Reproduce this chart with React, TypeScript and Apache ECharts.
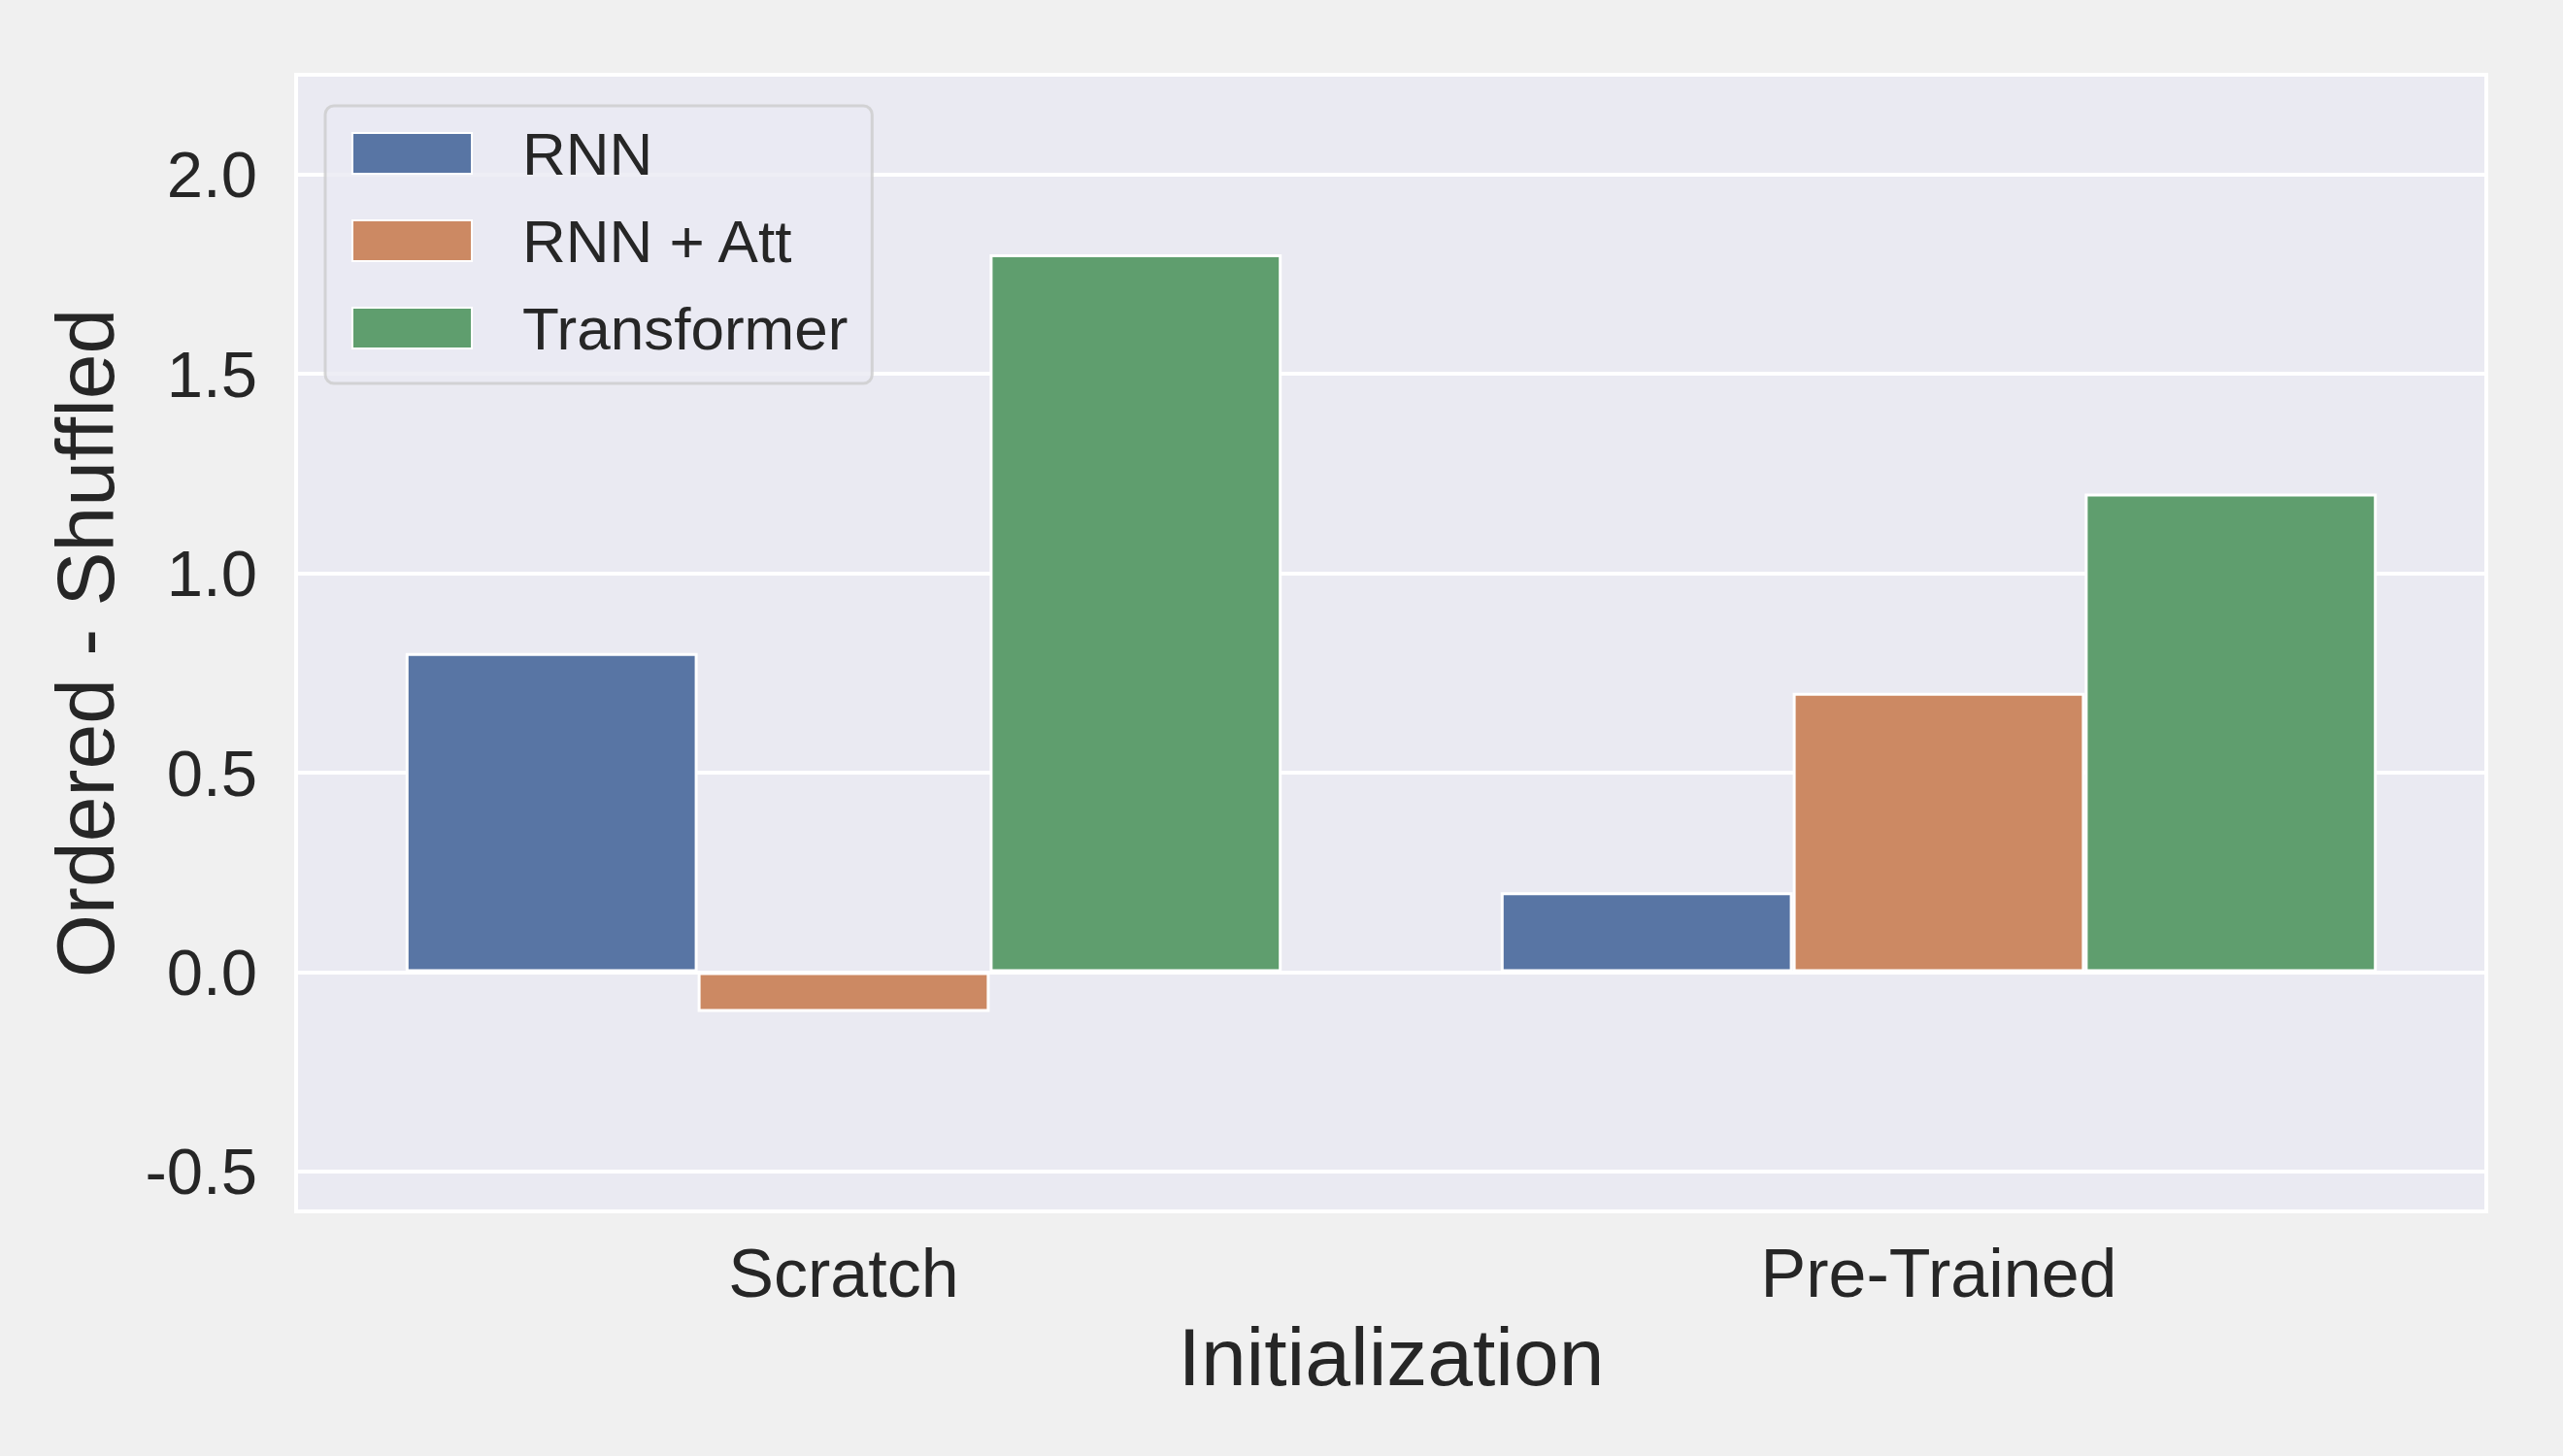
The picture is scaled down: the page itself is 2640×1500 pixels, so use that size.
import React, { useEffect, useRef } from 'react';
import * as echarts from 'echarts';

const categories = ['Scratch', 'Pre-Trained'];
const seriesNames = ['RNN', 'RNN + Att', 'Transformer'];
const rnnValues = [0.8, 0.2];
const rnnAttValues = [-0.1, 0.7];
const transformerValues = [1.8, 1.2];
const yTicks = [-0.5, 0.0, 0.5, 1.0, 1.5, 2.0];
const colors = ['#5875a4', '#cc8963', '#5f9e6e'];

const FONT = '"Liberation Sans", Arial, "DejaVu Sans", sans-serif';
const TEXT = '#262626';

export default function App() {
  const ref = useRef<HTMLDivElement>(null);
  useEffect(() => {
    if (!ref.current) return;
    const chart = echarts.init(ref.current, null, { renderer: 'svg' });
    const values = [rnnValues, rnnAttValues, transformerValues];
    chart.setOption({
      animation: false,
      backgroundColor: '#f0f0f0',
      textStyle: { fontFamily: FONT, color: TEXT },
      grid: {
        left: 305,
        right: 79,
        top: 77,
        bottom: 252,
        show: true,
        backgroundColor: '#eaeaf2',
        borderColor: '#ffffff',
        borderWidth: 4,
      },
      legend: {
        orient: 'vertical',
        left: 335,
        top: 109,
        data: seriesNames,
        icon: 'rect',
        itemWidth: 123,
        itemHeight: 42,
        itemGap: 28,
        padding: [18, 25, 26, 27],
        backgroundColor: 'rgba(234,234,242,0.8)',
        borderColor: 'rgba(204,204,204,0.8)',
        borderWidth: 3,
        borderRadius: 9,
        textStyle: {
          fontSize: 62,
          lineHeight: 41,
          color: TEXT,
          fontFamily: FONT,
          padding: [0, 0, 0, 47],
        },
      },
      xAxis: {
        type: 'category',
        data: categories,
        axisLine: { show: false },
        axisTick: { show: false },
        axisLabel: { fontSize: 70, color: TEXT, margin: 29, fontFamily: FONT },
        splitLine: { show: false },
        name: 'Initialization',
        nameLocation: 'middle',
        nameGap: 108,
        nameTextStyle: { fontSize: 84, color: TEXT, fontFamily: FONT },
      },
      yAxis: {
        type: 'value',
        min: -0.6,
        max: 2.25,
        axisLine: { show: false },
        axisTick: { show: false, customValues: yTicks },
        axisLabel: {
          customValues: yTicks,
          fontSize: 67,
          color: TEXT,
          margin: 40,
          fontFamily: FONT,
          formatter: (v: number) => v.toFixed(1),
        },
        splitLine: { show: true, lineStyle: { color: '#ffffff', width: 4 } },
        name: 'Ordered - Shuffled',
        nameLocation: 'middle',
        nameGap: 175,
        nameTextStyle: { fontSize: 84, color: TEXT, fontFamily: FONT },
      },
      series: seriesNames.map((name, i) => ({
        name,
        type: 'bar',
        data: values[i],
        barGap: '0%',
        barCategoryGap: '20%',
        itemStyle: { color: colors[i], borderColor: '#ffffff', borderWidth: 3 },
      })),
    });
    return () => chart.dispose();
  }, []);
  return (
    <div
      ref={ref}
      style={{ position: 'fixed', left: 0, top: 0, width: 2640, height: 1500 }}
    />
  );
}
